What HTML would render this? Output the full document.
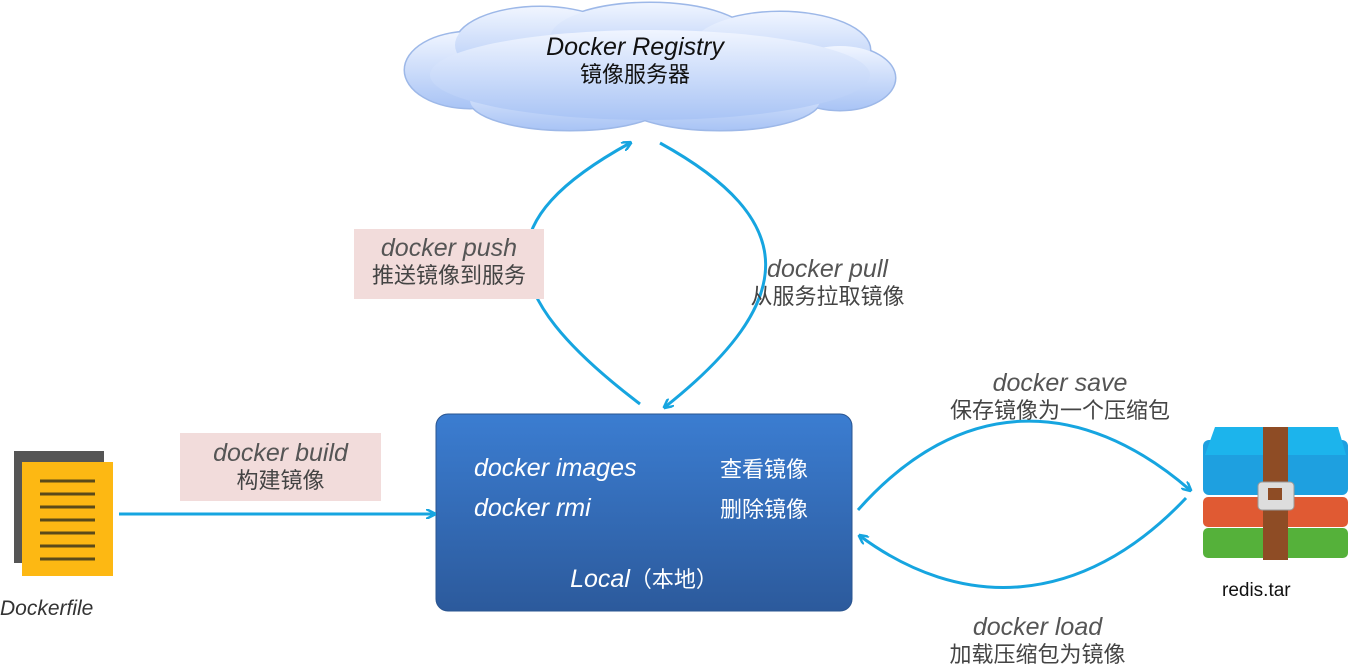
<!DOCTYPE html>
<html><head><meta charset="utf-8"><style>
body{margin:0;width:1371px;height:672px;background:#fff;overflow:hidden;position:relative;font-family:"Liberation Sans","Noto Sans CJK SC",sans-serif}
.t{position:absolute;text-align:center;color:#444;font-size:22px;line-height:27px}
.t i{font-size:25px;font-style:italic;color:#555}
.lab{position:absolute;background:#f2dcdb}
</style></head><body>
<svg width="1371" height="672" style="position:absolute;left:0;top:0">
<defs>
<linearGradient id="cg" x1="0" y1="0" x2="0" y2="1"><stop offset="0" stop-color="#f0f5ff"/><stop offset="1" stop-color="#a9c4f5"/></linearGradient>
<linearGradient id="bg" x1="0" y1="0" x2="0" y2="1"><stop offset="0" stop-color="#3b7dd1"/><stop offset="1" stop-color="#2c5a9c"/></linearGradient>
<marker id="ah" markerWidth="10" markerHeight="10" refX="8" refY="5" orient="auto" markerUnits="userSpaceOnUse"><path d="M0,0 L10,5 L0,10" fill="none" stroke="#16a5e0" stroke-width="2.5"/></marker>
<g id="cl">
<ellipse cx="470" cy="70" rx="65" ry="38"/>
<ellipse cx="540" cy="45" rx="85" ry="38"/>
<ellipse cx="650" cy="38" rx="100" ry="35"/>
<ellipse cx="780" cy="50" rx="90" ry="38"/>
<ellipse cx="840" cy="78" rx="55" ry="32"/>
<ellipse cx="720" cy="100" rx="100" ry="30"/>
<ellipse cx="570" cy="100" rx="100" ry="30"/>
<ellipse cx="650" cy="75" rx="220" ry="45"/>
</g>
</defs>
<use href="#cl" fill="none" stroke="#9db8e8" stroke-width="3"/>
<use href="#cl" fill="url(#cg)"/>
<rect x="436" y="414" width="416" height="197" rx="12" fill="url(#bg)" stroke="#2a5590"/>
<g fill="none" stroke="#16a5e0" stroke-width="3" marker-end="url(#ah)">
<path d="M640,404 C490,290 490,220 630,143"/>
<path d="M660,143 C800,220 800,300 665,407"/>
<path d="M119,514 L434,514"/>
<path d="M858,510 C960,395 1080,395 1190,490"/>
<path d="M1186,498 C1080,610 960,610 860,536"/>
</g>
<rect x="14" y="451" width="90" height="112" fill="#555"/>
<rect x="22" y="462" width="91" height="114" fill="#fdb813"/>
<g stroke="#5a4a1a" stroke-width="3">
<line x1="40" y1="481" x2="95" y2="481"/><line x1="40" y1="494" x2="95" y2="494"/><line x1="40" y1="507" x2="95" y2="507"/><line x1="40" y1="520" x2="95" y2="520"/><line x1="40" y1="533" x2="95" y2="533"/><line x1="40" y1="546" x2="95" y2="546"/><line x1="40" y1="559" x2="95" y2="559"/>
</g>
<rect x="1203" y="440" width="145" height="55" rx="6" fill="#1ea0e0"/>
<path d="M1215,427 L1338,427 L1346,455 L1205,455 Z" fill="#1cb4ec"/>
<rect x="1203" y="497" width="145" height="30" rx="5" fill="#e05a33"/>
<rect x="1203" y="528" width="145" height="30" rx="5" fill="#55b13a"/>
<rect x="1263" y="427" width="25" height="133" fill="#8e4c25"/>
<rect x="1258" y="482" width="36" height="28" rx="4" fill="#ddd" stroke="#999"/>
<rect x="1268" y="488" width="14" height="12" fill="#8e4c25"/>
</svg>
<div class="t" style="left:500px;top:34px;width:270px;color:#111"><i style="color:#111">Docker Registry</i><br>镜像服务器</div>
<div class="lab" style="left:354px;top:229px;width:190px;height:70px"></div>
<div class="t" style="left:354px;top:235px;width:190px"><i>docker push</i><br>推送镜像到服务</div>
<div class="t" style="left:735px;top:256px;width:185px"><i>docker pull</i><br>从服务拉取镜像</div>
<div class="lab" style="left:180px;top:433px;width:201px;height:68px"></div>
<div class="t" style="left:180px;top:440px;width:201px"><i>docker build</i><br>构建镜像</div>
<div class="t" style="left:0;top:594px;width:110px;text-align:left"><i style="font-size:21px;color:#333">Dockerfile</i></div>
<div class="t" style="left:930px;top:370px;width:260px"><i>docker save</i><br>保存镜像为一个压缩包</div>
<div class="t" style="left:930px;top:614px;width:215px"><i>docker load</i><br>加载压缩包为镜像</div>
<div class="t" style="left:1222px;top:577px;width:90px;text-align:left;color:#111;font-size:19px">redis.tar</div>
<div class="t" style="left:474px;top:455px;color:#fff;text-align:left"><i style="color:#fff">docker images</i></div>
<div class="t" style="left:474px;top:495px;color:#fff;text-align:left"><i style="color:#fff">docker rmi</i></div>
<div class="t" style="left:720px;top:456px;color:#fff;text-align:left">查看镜像</div>
<div class="t" style="left:720px;top:496px;color:#fff;text-align:left">删除镜像</div>
<div class="t" style="left:436px;top:566px;width:416px;color:#fff"><i style="color:#fff">Local</i>（本地）</div>
</body></html>
